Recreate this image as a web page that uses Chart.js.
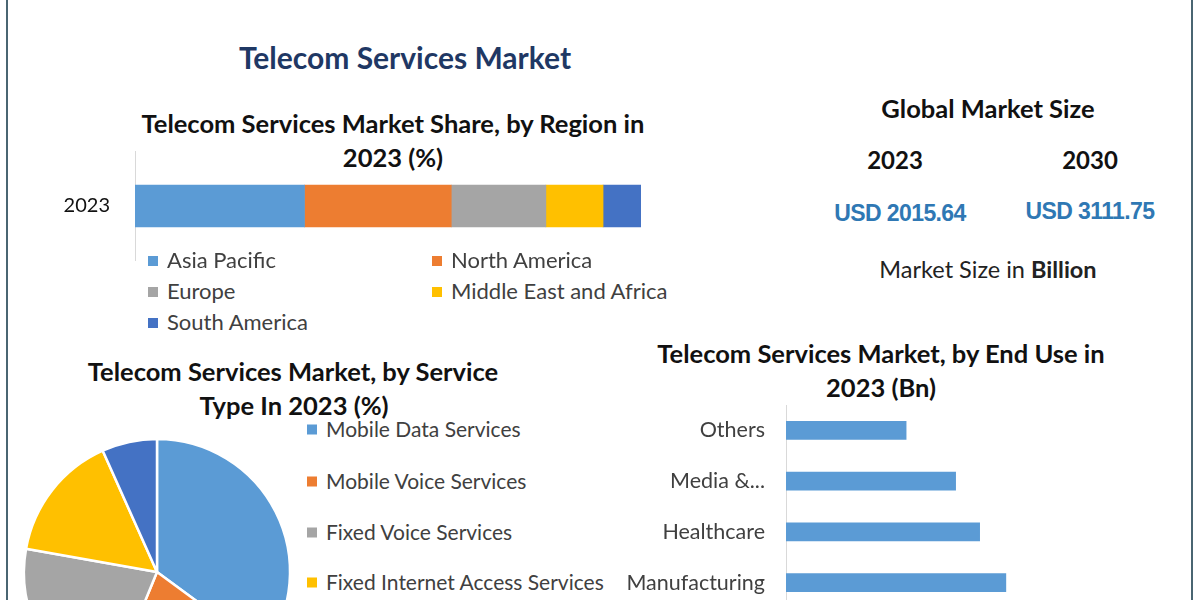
<!DOCTYPE html>
<html lang="en">
<head>
<meta charset="UTF-8">
<title>Telecom Services Market</title>
<script src="https://cdn.jsdelivr.net/npm/chart.js"></script>
<style>
    html, body {
        margin: 0;
        padding: 0;
        width: 1200px;
        height: 600px;
        overflow: hidden;
        background: #ffffff;
        font-family: Lato, "Open Sans", sans-serif;
    }
    .frame {
        position: absolute;
        left: 6px;
        top: 0;
        width: 1183px;
        height: 620px;
        border-left: 2px solid #4a6572;
        border-right: 2px solid #4a6572;
    }
    .txt {
        position: absolute;
        transform: translate(-50%, -50%);
        white-space: nowrap;
        line-height: 1;
        color: #111;
    }
    .bold { font-weight: bold; }
    .head { font-weight: bold; font-size: 25.5px; }
    .usd {
        font-family: "Liberation Sans", Arial, sans-serif;
        font-weight: bold;
        font-size: 23px;
        color: #2f78b4;
        letter-spacing: -0.6px;
    }
    canvas { position: absolute; }
    .legend-item {
        position: absolute;
        color: #404040;
        line-height: 1;
        white-space: nowrap;
        transform: translateY(-50%);
    }
    .legend-item span {
        display: inline-block;
        width: 10px;
        height: 10px;
        margin-right: 9px;
        vertical-align: 2px;
    }
    #regionLegend .legend-item { font-size: 22px; }
    #serviceLegend .legend-item { font-size: 21px; }
</style>
</head>
<body>
<div class="frame"></div>

<!-- titres et textes -->
<div class="txt bold" style="left:405px; top:57px; font-size:30px; color:#1f3864;">Telecom Services Market</div>

<div class="txt head" style="left:393px; top:124px;">Telecom Services Market Share, by Region in</div>
<div class="txt head" style="left:393px; top:158px;">2023 (%)</div>

<div class="txt head" style="left:988px; top:109px;">Global Market Size</div>
<div class="txt bold" style="left:895px; top:160px; font-size:24px;">2023</div>
<div class="txt bold" style="left:1090px; top:160px; font-size:24px;">2030</div>
<div class="txt usd" style="left:900px; top:213px;">USD 2015.64</div>
<div class="txt usd" style="left:1090px; top:211px;">USD 3111.75</div>
<div class="txt" style="left:988px; top:270px; font-size:23.5px; color:#222;">Market Size in <b>Billion</b></div>

<div class="txt head" style="left:293px; top:372px;">Telecom Services Market, by Service</div>
<div class="txt head" style="left:294px; top:406px;">Type In 2023 (%)</div>

<div class="txt head" style="left:881px; top:354px;">Telecom Services Market, by End Use in</div>
<div class="txt head" style="left:881px; top:388px;">2023 (Bn)</div>

<canvas id="regionChart" width="650" height="110" style="left:0px; top:151px;"></canvas>
<div id="regionLegend"></div>

<canvas id="serviceChart" width="300" height="300" style="left:7px; top:422px;"></canvas>
<div id="serviceLegend"></div>

<canvas id="endUseChart" width="550" height="203" style="left:600px; top:405px;"></canvas>

<script>
    // Données
    const regionYear = ['2023'];
    const regionLabels = ['Asia Pacific', 'North America', 'Europe', 'Middle East and Africa', 'South America'];
    const regionShare = [33.5, 29.0, 18.7, 11.3, 7.5];

    const serviceLabels = ['Mobile Data Services', 'Mobile Voice Services', 'Fixed Voice Services', 'Fixed Internet Access Services', 'Others'];
    const serviceShare = [35.1, 21.1, 21.6, 15.5, 6.7];

    const endUseLabels = ['Others', 'Media &...', 'Healthcare', 'Manufacturing'];
    const endUseValues = [165, 233, 266, 302];

    const palette = ['#5b9bd5', '#ed7d31', '#a5a5a5', '#ffc000', '#4472c4'];

    Chart.defaults.font.family = 'Lato, "Open Sans", sans-serif';
    Chart.defaults.color = '#404040';
    Chart.defaults.animation = false;

    // largeur fixe de l'axe, sans marge haute/basse
    function fixAxis(width) {
        return (scale) => {
            scale.width = width;
            scale.paddingTop = 0;
            scale.paddingBottom = 0;
        };
    }

    // Barre empilée par région
    new Chart(document.getElementById('regionChart'), {
        type: 'bar',
        data: {
            labels: regionYear,
            datasets: regionLabels.map((name, i) => ({
                label: name,
                data: [regionShare[i]],
                backgroundColor: palette[i],
                barThickness: 42
            }))
        },
        options: {
            indexAxis: 'y',
            responsive: false,
            devicePixelRatio: 1,
            layout: { padding: { right: 9 } },
            plugins: { legend: { display: false }, tooltip: { enabled: false } },
            scales: {
                x: { stacked: true, min: 0, max: 100, display: false },
                y: {
                    stacked: true,
                    grid: { display: false, drawTicks: false },
                    border: { display: true, color: '#d9d9d9', width: 1 },
                    ticks: { padding: 25, color: '#111', font: { size: 20 } },
                    afterFit: fixAxis(135)
                }
            }
        }
    });

    // Camembert par type de service
    new Chart(document.getElementById('serviceChart'), {
        type: 'pie',
        data: {
            labels: serviceLabels,
            datasets: [{
                data: serviceShare,
                backgroundColor: palette,
                borderColor: '#ffffff',
                borderWidth: 2.5,
                radius: 133
            }]
        },
        options: {
            responsive: false,
            devicePixelRatio: 1,
            plugins: { legend: { display: false }, tooltip: { enabled: false } }
        }
    });

    // Barres par usage final
    new Chart(document.getElementById('endUseChart'), {
        type: 'bar',
        data: {
            labels: endUseLabels,
            datasets: [{
                data: endUseValues,
                backgroundColor: '#5b9bd5',
                barThickness: 18
            }]
        },
        options: {
            indexAxis: 'y',
            responsive: false,
            devicePixelRatio: 1,
            plugins: { legend: { display: false }, tooltip: { enabled: false } },
            scales: {
                x: { min: 0, max: 500, display: false },
                y: {
                    grid: { display: false, drawTicks: false },
                    border: { display: true, color: '#d9d9d9', width: 1 },
                    ticks: { padding: 21, font: { size: 21.5 } },
                    afterFit: fixAxis(186)
                }
            }
        }
    });

    // Légendes
    function addLegend(containerId, labels, colors, positions) {
        const box = document.getElementById(containerId);
        labels.forEach((name, i) => {
            const item = document.createElement('div');
            item.className = 'legend-item';
            item.style.left = positions[i][0] + 'px';
            item.style.top = positions[i][1] + 'px';
            item.innerHTML = '<span style="background:' + colors[i] + '"></span>' + name;
            box.appendChild(item);
        });
    }

    addLegend('regionLegend', regionLabels, palette,
        [[148, 260], [432, 260], [148, 291], [432, 291], [148, 322]]);
    addLegend('serviceLegend', serviceLabels, palette,
        [[307, 428], [307, 480], [307, 531], [307, 581], [307, 632]]);
</script>
</body>
</html>
